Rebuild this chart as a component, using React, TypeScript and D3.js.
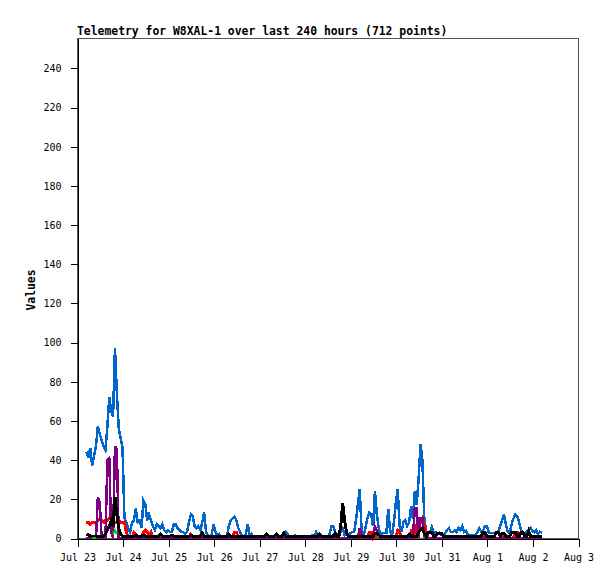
import { useEffect, useRef } from 'react'
import * as d3 from 'd3'

const TITLE = 'Telemetry for W8XAL-1 over last 240 hours (712 points)'
const Y_LABEL = 'Values'

// hourly readings, starting Jul 23 05:00 UTC
const START_DAY = Date.UTC(2023, 6, 23)
const END_DAY = Date.UTC(2023, 7, 3)
const FIRST_HOUR = 5
const Y_MAX = 255.3
const Y_TICKS = [0, 20, 40, 60, 80, 100, 120, 140, 160, 180, 200, 220, 240]

const blue = [
  44, 41, 46, 37, 42, 47, 57, 53, 50, 47,
  45, 57, 72, 65, 62, 97, 74, 56, 51, 46,
  10, 8, 5, 3, 8, 9, 15, 8, 9, 5,
  19, 17, 9, 12, 9, 6, 4, 7, 6, 5,
  7, 4, 3, 4, 3, 3, 7, 7, 5, 4,
  3, 3, 2, 3, 8, 12, 11, 6, 5, 6,
  4, 8, 13, 3, 1, 1, 2, 7, 3, 1,
  2, 1, 1, 1, 1, 6, 9, 10, 11, 9,
  5, 3, 1, 1, 2, 7, 1, 2, 0.5, 0.5,
  0.5, 0.5, 0.5, 0.5, 1, 0.5, 0.5, 0.5, 0.5, 0.5,
  0.5, 0.5, 0.5, 0.5, 0.5, 3, 2, 0.5, 0.5, 0.5,
  1.5, 0.5, 0.5, 0.5, 0.5, 0.5, 0.5, 0.5, 0.5, 1.5,
  1, 3, 1, 1.5, 1, 0.5, 0.5, 1, 1.5, 6,
  6, 3, 2, 1, 3, 5, 1.5, 3, 1, 2.5,
  3, 3, 9, 17, 25, 3, 1.5, 5, 10, 13,
  12, 6, 24, 12, 5, 2, 2.5, 2.5, 2.5, 15,
  3, 1.5, 8, 18, 25, 6, 3, 8, 9, 6,
  8, 16, 10, 24, 17, 30, 48, 40, 10, 3,
  2.6, 3, 5.6, 2.6, 3, 1.8, 2.6, 1.5, 2, 2.4,
  4, 5, 3, 3, 4, 3, 5, 4, 6, 3,
  3.6, 1.6, 1.6, 1.6, 1.6, 1.6, 3, 5, 3.2, 4,
  6, 6, 2.8, 2.6, 2.6, 2.6, 2.6, 3.2, 6, 9,
  12, 7, 3, 2.4, 7, 10, 12, 11, 8, 4,
  3, 2.4, 3.2, 4, 5, 3.6, 2.9, 4, 2, 3.2, 2.8,
]

const red = [
  8, 8, 7, 8, 8, 8, 9, 10, 9, 8,
  9, 9, 10, 10, 9, 8, 8, 9, 8, 8,
  8, 3, 0, 0, 0, 3, 2, 0, 0, 0,
  3, 4, 3, 2, 3, 0, 0, 0, 1, 0,
  0, 0, 0, 0, 0, 0, 0, 0, 0, 0,
  0, 0, 0, 0, 0, 2, 1, 0, 0, 0,
  1.5, 0, 0, 0, 0, 0, 0, 0, 0, 0,
  0, 0, 0, 0, 0, 0, 0, 0, 3, 3,
  0, 0, 0, 0, 0, 0, 0, 0, 0, 0,
  0, 0, 0, 0, 0, 0, 0, 0, 0, 0,
  0, 0, 0, 0, 0, 0, 0, 0, 0, 0,
  0, 0, 0, 0, 0, 0, 0, 0, 0, 0,
  0, 0, 0, 0, 0, 0, 0, 0, 0, 0,
  0, 0, 0, 0, 0, 0, 0, 0, 0, 0,
  0, 0, 0, 0, 0, 2, 0, 0, 0, 3,
  3, 0, 2, 0, 0, 0, 0, 0, 0, 0,
  0, 0, 0, 0, 4, 3, 0, 0, 0, 0,
  0, 3, 0, 0, 6, 5, 8, 10, 7, 2,
  0, 0, 0, 0, 0, 0, 0, 0, 0, 0,
  0, 0, 0, 0, 0, 0, 0, 0, 0, 0,
  0, 0, 0, 0, 0, 0, 0, 0, 0, 0,
  1.5, 0, 0, 0, 0, 0, 0, 0, 0, 1,
  0, 0, 0, 0, 0, 0, 3, 3, 0, 0,
  0, 0, 0, 0, 0, 0, 0, 0, 0, 0, 0,
]

const purple = [
  0, 0, 0, 0, 0, 0, 21, 18, 0, 0,
  0, 40, 41, 3, 0, 47, 45, 0, 0, 0,
  0, 0, 0, 0, 0, 0, 0, 0, 0, 0,
  0, 0, 0, 0, 0, 0, 0, 0, 0, 0,
  0, 0, 0, 0, 0, 0, 0, 0, 0, 0,
  0, 0, 0, 0, 0, 0, 0, 0, 0, 0,
  0, 0, 0, 0, 0, 0, 0, 0, 0, 0,
  0, 0, 0, 0, 0, 0, 1, 0, 0, 0,
  0, 0, 0, 0, 0, 0, 0, 0, 0, 0,
  0, 0, 0, 0, 0, 0, 0, 0, 0, 0,
  0, 0, 0, 0, 0, 0, 0, 0, 0, 0,
  0, 0, 0, 0, 0, 0, 0, 0, 0, 0,
  0, 0, 0, 1.5, 0, 0, 0, 0, 0, 0,
  0, 0, 0, 0, 0, 0, 0, 0, 0, 0,
  0, 0, 0, 0, 5, 2, 0, 0, 0, 0,
  0, 0, 6, 4, 0, 0, 0, 0, 0, 0,
  0, 0, 0, 0, 0, 0, 0, 0, 0, 0,
  0, 0, 0, 15, 15, 0, 10, 10, 0, 0,
  0, 0, 0, 0, 0, 0, 0, 0, 0, 0,
  0, 0, 0, 0, 0, 0, 0, 0, 0, 0,
  0, 0, 0, 0, 0, 0, 0, 0, 0, 0,
  0, 0, 0, 0, 0, 0, 0, 0, 0, 0,
  0, 0, 0, 0, 0, 0, 0, 0, 0, 0,
  0, 0, 0, 0, 0, 0, 0, 0, 0, 0, 0,
]

const black = [
  2, 1.5, 1, 1, 1, 1, 1, 1, 1, 1,
  2, 4, 6, 9, 6, 21, 12, 5, 2, 1,
  1, 1, 1, 1, 1, 1, 1.5, 1, 1, 1,
  1.5, 1, 1, 1, 1, 1, 1, 1, 1, 2,
  1, 1, 1, 1, 1, 1.5, 1, 1, 1, 1,
  1, 1, 1, 1, 1, 1.5, 1, 1, 1, 1,
  1, 2.5, 1, 1, 1, 1, 1, 1, 1, 1,
  1, 1, 1, 1, 1, 2, 1, 1, 1, 1,
  1, 1, 1, 1, 1, 1, 1, 1, 1, 1,
  1, 1, 1, 1, 1, 2, 1, 1, 1, 1,
  2, 1, 1, 1, 2.5, 1, 1, 1, 1, 1,
  1, 1, 1, 1, 1, 1, 1, 1, 1, 1,
  1, 1, 1, 2, 1, 1, 1, 1, 1, 1,
  1, 2.5, 1, 1, 6, 18, 9, 3, 1, 1,
  1, 1, 1, 1, 1, 1, 1, 1, 1, 1,
  1, 1, 2.5, 2.5, 1, 1, 1, 1, 1, 1,
  1, 1, 1, 1, 1, 1, 1, 1, 1, 1,
  2, 1, 1, 1, 1, 3, 4, 5, 2, 1,
  3, 3, 3, 1, 1, 2.5, 2.5, 2.5, 1, 1,
  1, 1, 1, 1, 1, 1, 1, 1, 1, 1,
  1, 1, 1, 1, 1, 1, 1, 1, 1, 3,
  3, 1, 1, 1, 1, 1, 3, 3, 1, 2.5,
  2.5, 1, 1, 1, 3, 3, 3, 1, 1, 3,
  3, 1, 1, 3.5, 1, 1, 1, 1, 1, 1, 1,
]

// short green stretches that show through: [hour, value]
const greenSegments: [number, number][][] = [
  [[8, 0], [9, 0], [10, 0]],
  [[19, 2], [20, 4], [21, 2]],
  [[158, 0.5], [159, 0.5]],
  [[182, 0], [183, 0]],
]

const hourDate = (h: number) => new Date(START_DAY + h * 3600e3)

export default function App() {
  const svgRef = useRef<SVGSVGElement>(null)

  useEffect(() => {
    if (!svgRef.current) return
    const svg = d3.select(svgRef.current)
    svg.selectAll('*').remove()

    const left = 77, right = 578, top = 38, bottom = 538

    const x = d3.scaleUtc()
      .domain([new Date(START_DAY), new Date(END_DAY)])
      .range([left, right])
    const y = d3.scaleLinear().domain([0, Y_MAX]).range([bottom, top])

    svg.append('rect')
      .attr('width', 615).attr('height', 579)
      .attr('fill', '#fff')

    // frame
    svg.append('rect')
      .attr('x', left + 0.5).attr('y', top + 0.5)
      .attr('width', right - left).attr('height', bottom - top)
      .attr('fill', 'none')
      .attr('stroke', '#555')
      .attr('shape-rendering', 'crispEdges')

    const series = (vals: number[], color: string, width: number) => {
      const line = d3.line<number>()
        .x((_, i) => x(hourDate(FIRST_HOUR + i)))
        .y(d => y(d))
      svg.append('path')
        .datum(vals)
        .attr('d', line)
        .attr('fill', 'none')
        .attr('stroke', color)
        .attr('stroke-width', width)
        .attr('stroke-linejoin', 'miter')
        .attr('shape-rendering', 'crispEdges')
    }

    series(blue, '#0066cc', 2.5)
    series(red, '#ff0000', 3)

    // axes
    const xAxis = d3.axisBottom(x)
      .ticks(d3.utcDay.every(1))
      .tickFormat(d3.utcFormat('%b %-d') as any)
      .tickSize(8)
      .tickSizeOuter(0)
      .tickPadding(7)
    const gx = svg.append('g')
      .attr('transform', `translate(0.5, ${bottom + 0.5})`)
      .call(xAxis)

    const yAxis = d3.axisLeft(y)
      .tickValues(Y_TICKS)
      .tickSize(7)
      .tickSizeOuter(0)
      .tickPadding(9)
    const gy = svg.append('g')
      .attr('transform', `translate(${left + 0.5}, 0.5)`)
      .call(yAxis)

    for (const g of [gx, gy]) {
      g.selectAll('path, line')
        .attr('stroke', '#000')
        .attr('shape-rendering', 'crispEdges')
      g.selectAll('text')
        .attr('fill', '#000')
        .attr('font-size', 10)
        .attr('font-family', 'DejaVu Sans Mono, monospace')
    }

    series(purple, '#800080', 2.5)
    series(black, '#000000', 3)

    const gLine = d3.line<[number, number]>()
      .x(d => x(hourDate(d[0])))
      .y(d => y(d[1]))
    svg.append('g')
      .selectAll('path')
      .data(greenSegments)
      .join('path')
      .attr('d', gLine)
      .attr('fill', 'none')
      .attr('stroke', '#00cc00')
      .attr('stroke-width', 2)

    svg.append('text')
      .attr('x', left)
      .attr('y', 35)
      .attr('font-size', 11.4)
      .attr('font-weight', 'bold')
      .attr('font-family', 'DejaVu Sans Mono, monospace')
      .text(TITLE)

    svg.append('text')
      .attr('transform', 'translate(35, 290) rotate(-90)')
      .attr('text-anchor', 'middle')
      .attr('font-size', 11.4)
      .attr('font-weight', 'bold')
      .attr('font-family', 'DejaVu Sans Mono, monospace')
      .text(Y_LABEL)
  }, [])

  return (
    <svg
      ref={svgRef}
      width={615}
      height={579}
      style={{ position: 'absolute', left: 0, top: 0 }}
    />
  )
}
